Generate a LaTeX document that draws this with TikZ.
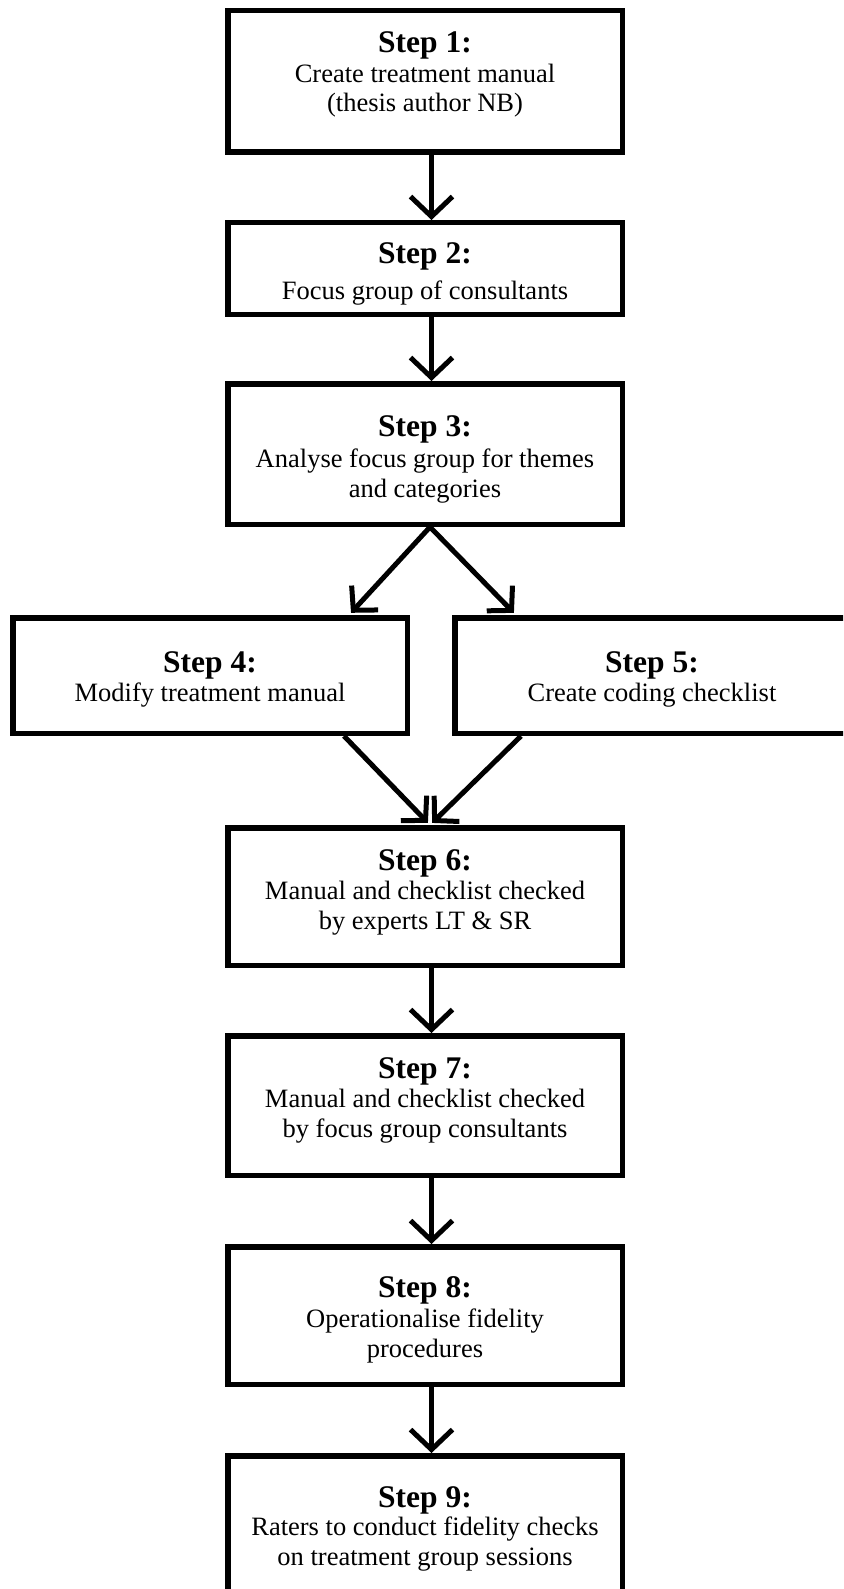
\documentclass[tikz,border=0pt]{standalone}
\usepackage{fontspec}
\setmainfont{Liberation Serif}
\usetikzlibrary{arrows.meta}
\newcommand\steplabel[1]{{\fontsize{31.5}{29.5}\selectfont\bfseries #1}}
\begin{document}
\begin{tikzpicture}[x=1pt,y=-1pt,
  box/.style={draw=black, line width=5.5pt, minimum width=394.5pt, inner sep=0pt},
  txt/.style={anchor=base, inner sep=0pt, font=\fontsize{26.5}{29.5}\selectfont},
  arr/.style={line width=5pt, -{Straight Barb[length=20pt,width=42pt]}},
  darr/.style={line width=5pt, shorten >=3pt, -{Straight Barb[length=17pt,width=36pt]}},
]
\useasboundingbox (0,0) rectangle (843,1589);
\clip (0,0) rectangle (843,1589);
% boxes
\node[box, minimum height=141.5pt] (b1) at (425,81.5) {};
\node[box, minimum height=91.5pt]  (b2) at (425,268.5) {};
\node[box, minimum height=140.5pt] (b3) at (425,454) {};
\node[box, minimum height=115.5pt] (b4) at (210,675.5) {};
\node[box, minimum height=115.5pt] (b5) at (652,675.5) {};
\node[box, minimum height=137.5pt] (b6) at (425,896.5) {};
\node[box, minimum height=139.5pt] (b7) at (425,1105.5) {};
\node[box, minimum height=137.5pt] (b8) at (425,1315.5) {};
\node[box, minimum height=141.5pt] (b9) at (425,1526.5) {};
% texts
\node[txt] (t1) at (425,53) {\begin{tabular}[t]{@{}c@{}}\steplabel{Step 1:}\\Create treatment manual\\(thesis author NB)\end{tabular}};
\node[txt] (t2) at (425,263) {\begin{tabular}[t]{@{}c@{}}\steplabel{Step 2:}\\[7pt]Focus group of consultants\end{tabular}};
\node[txt] (t3) at (425,436) {\begin{tabular}[t]{@{}c@{}}\steplabel{Step 3:}\\[2pt]Analyse focus group for themes\\and categories\end{tabular}};
\node[txt] (t4) at (210,672) {\begin{tabular}[t]{@{}c@{}}\steplabel{Step 4:}\\Modify treatment manual\end{tabular}};
\node[txt] (t5) at (652,672) {\begin{tabular}[t]{@{}c@{}}\steplabel{Step 5:}\\Create coding checklist\end{tabular}};
\node[txt] (t6) at (425,870) {\begin{tabular}[t]{@{}c@{}}\steplabel{Step 6:}\\Manual and checklist checked\\by experts LT \& SR\end{tabular}};
\node[txt] (t7) at (425,1078) {\begin{tabular}[t]{@{}c@{}}\steplabel{Step 7:}\\Manual and checklist checked\\by focus group consultants\end{tabular}};
\node[txt] (t8) at (425,1297) {\begin{tabular}[t]{@{}c@{}}\steplabel{Step 8:}\\[1pt]Operationalise fidelity\\procedures\end{tabular}};
\node[txt] (t9) at (425,1507) {\begin{tabular}[t]{@{}c@{}}\steplabel{Step 9:}\\[-1pt]Raters to conduct fidelity checks\\on treatment group sessions\end{tabular}};
% connectors
\draw[arr] ([xshift=6.5pt]b1.south) -- ([xshift=6.5pt]b2.north);
\draw[arr] ([xshift=6.5pt]b2.south) -- ([xshift=6.5pt]b3.north);
\draw[darr] ([xshift=5pt]b3.south) -- ([xshift=139pt]b4.north);
\draw[darr] ([xshift=5pt]b3.south) -- ([xshift=-136pt]b5.north);
\draw[darr] ([xshift=134pt]b4.south) -- ([xshift=5pt]b6.north);
\draw[darr] ([xshift=-131pt]b5.south) -- ([xshift=5pt]b6.north);
\draw[arr] ([xshift=6.5pt]b6.south) -- ([xshift=6.5pt]b7.north);
\draw[arr] ([xshift=6.5pt]b7.south) -- ([xshift=6.5pt]b8.north);
\draw[arr] ([xshift=6.5pt]b8.south) -- ([xshift=6.5pt]b9.north);
\end{tikzpicture}
\end{document}
